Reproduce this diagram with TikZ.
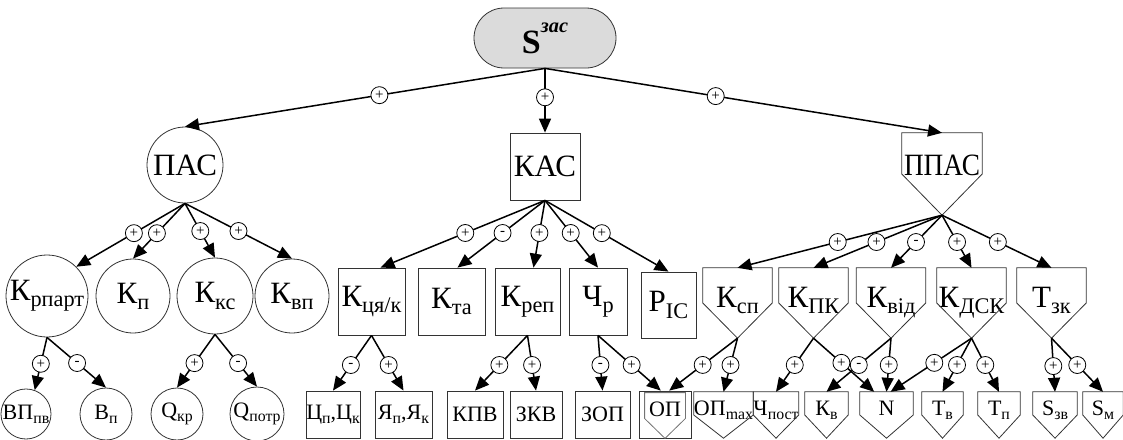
\documentclass[tikz,border=0pt]{standalone}
\usepackage{fontspec}
\setmainfont{Liberation Serif}
\usetikzlibrary{arrows.meta,shapes.misc,calc}
\newcommand\lo[1]{\raisebox{-0.2em}{\scalebox{0.72}{#1}}}
\newcommand\hi[1]{\raisebox{0.62em}{\scalebox{0.6}{#1}}}
\tikzset{
 outl/.style={draw=black!80, line width=0.8pt},
 bigf/.style={font=\fontsize{31}{33}\selectfont},
 smlf/.style={font=\fontsize{22}{24}\selectfont},
 circ/.style={circle, outl, inner sep=0pt},
 sq/.style={rectangle, outl, inner sep=0pt},
 pill/.style={rounded rectangle, outl, fill=black!14, inner sep=0pt, minimum width=142pt, minimum height=60pt, font=\fontsize{34}{36}\selectfont},
 pentA/.style={rectangle, inner sep=0pt, minimum width=69pt, minimum height=70pt, text height=21pt, text depth=13pt, bigf},
 pentB/.style={rectangle, inner sep=0pt, minimum height=46pt, text height=15pt, text depth=15pt, smlf},
 sign/.style={circle, draw=black, line width=0.8pt, fill=white, inner sep=0pt, minimum size=17pt, font=\fontsize{15}{15}\selectfont},
 conn/.style={draw=black, line width=1.5pt, -{Triangle[length=14pt,width=12pt]}},
}
\begin{document}
\begin{tikzpicture}[x=1pt,y=-1pt]
\useasboundingbox (0,0) rectangle (1123,439);
% top
\node[pill] (s) at (545,38) {\textbf{S}\hi{\textbf{\textit{зас}}}};
% level 1
\node[circ, bigf, minimum size=76pt] (pas) at (185,165) {ПАС};
\node[sq, bigf, minimum width=70pt, minimum height=67pt] (kas) at (545,166.5) {КАС};
\node[rectangle, inner sep=0pt, minimum width=80pt, minimum height=82pt, text height=22pt, text depth=20pt, bigf] (ppas) at (942,174) {\scalebox{0.88}[1]{ППАС}};
% level 2 circles
\node[circ, bigf, minimum size=82pt] (krp) at (47,296) {К\lo{рпарт}};
\node[circ, bigf, minimum size=74pt] (kp) at (133,296) {К\lo{п}};
\node[circ, bigf, minimum size=76pt] (kks) at (215,296) {К\lo{кс}};
\node[circ, bigf, minimum size=74pt] (kvp) at (292,296) {К\lo{вп}};
% level 2 boxes
\node[sq, bigf, minimum width=67pt, minimum height=67pt] (kca) at (371.5,301.5) {К\lo{ця/к}};
\node[sq, bigf, minimum width=67pt, minimum height=67pt] (kta) at (451.5,301.5) {К\lo{та}};
\node[sq, bigf, minimum width=65pt, minimum height=67pt] (krep) at (527.5,301.5) {К\lo{реп}};
\node[sq, bigf, minimum width=58pt, minimum height=67pt] (chr) at (598,301.5) {Ч\lo{р}};
\node[sq, bigf, minimum width=55pt, minimum height=66pt] (pic) at (668.5,305) {P\lo{IC}};
% level 2 pentagons
\node[pentA] (ksp) at (737.5,303) {К\lo{сп}};
\node[pentA] (kpk) at (813.5,303) {К\lo{ПК}};
\node[pentA] (kvid) at (891,303) {К\lo{від}};
\node[pentA] (kdsk) at (971.5,303) {К\lo{ДСК}};
\node[pentA] (tzk) at (1051.5,303) {Т\lo{зк}};
% level 3 circles
\node[circ, smlf, minimum size=50pt] (vpp) at (26,414) {ВП\lo{пв}};
\node[circ, smlf, minimum size=52pt] (vp) at (106,414) {В\lo{п}};
\node[circ, smlf, minimum size=52pt] (qkr) at (177,414) {Q\lo{кр}};
\node[circ, smlf, minimum size=54pt] (qpotr) at (257,414) {Q\lo{потр}};
% level 3 boxes
\node[sq, smlf, minimum width=54pt, minimum height=47pt] (cpck) at (333,414.5) {Ц\lo{п},Ц\lo{к}};
\node[sq, smlf, minimum width=57pt, minimum height=47pt] (yapk) at (403.5,414.5) {Я\lo{п},Я\lo{к}};
\node[sq, smlf, minimum width=56pt, minimum height=47pt] (kpv) at (475,414.5) {КПВ};
\node[sq, smlf, minimum width=52pt, minimum height=47pt] (zkv) at (536,414.5) {ЗКВ};
\node[sq, smlf, minimum width=55pt, minimum height=47pt] (zop) at (602.5,414.5) {ЗОП};
\node[sq, smlf, minimum width=52pt, minimum height=47pt, text height=15pt, text depth=11pt] (op) at (665,414.5) {ОП};
% level 3 pentagons
\node[pentB, minimum width=43pt] (opmax) at (723.5,415) {ОП\lo{max}};
\node[pentB, minimum width=42pt] (chpost) at (776,415) {Ч\lo{пост}};
\node[pentB, minimum width=43pt] (kv) at (826.5,415) {К\lo{в}};
\node[pentB, minimum width=53pt] (n) at (886.5,415) {N};
\node[pentB, minimum width=41pt] (tv) at (942.5,415) {Т\lo{в}};
\node[pentB, minimum width=42pt] (tp) at (999,415) {Т\lo{п}};
\node[pentB, minimum width=44pt] (szv) at (1055,415) {S\lo{зв}};
\node[pentB, minimum width=40pt] (sm) at (1103,415) {S\lo{м}};
% pentagon outlines
\foreach \p in {ppas,ksp,kpk,kvid,kdsk,tzk,opmax,chpost,kv,n,tv,tp,szv,sm}
  \draw[outl] (\p.north west) -- (\p.north east) -- (\p.east) -- (\p.south) -- (\p.west) -- cycle;
\draw[outl, draw=black!55] ($(op.north west)+(6,2)$) -- ($(op.north east)+(-6,2)$) -- ($(op.east)+(-6,4)$) -- (op.south) -- ($(op.west)+(6,4)$) -- cycle;
% connectors: top
\draw[conn] (s.south) -- node[sign,pos=.46]{+} (pas.north);
\draw[conn] (s.south) -- node[sign,pos=.45]{+} (kas.north);
\draw[conn] (s.south) -- node[sign,pos=.43]{+} (ppas.north);
% PAS
\draw[conn] (pas.south) -- node[sign,pos=.47]{+} (krp.north east);
\draw[conn] (pas.south) -- node[sign,pos=.54]{+} (kp.north);
\draw[conn] (pas.south) -- node[sign,pos=.51]{+} (kks.north);
\draw[conn] (pas.south) -- node[sign,pos=.5]{+} (kvp.north);
\draw[conn] (krp.south) -- node[sign,pos=.5]{+} (vpp.70);
\draw[conn] (krp.south) -- node[sign,pos=.51]{-} (vp.north);
\draw[conn] (kks.south) -- node[sign,pos=.54]{+} (qkr.north);
\draw[conn] (kks.south) -- node[sign,pos=.55]{-} (qpotr.north);
% KAS
\draw[conn] (kas.south) -- node[sign,pos=.485]{+} (kca.75);
\draw[conn] (kas.south) -- node[sign,pos=.485]{-} (kta.80);
\draw[conn] (kas.south) -- node[sign,pos=.485]{+} (krep.80);
\draw[conn] (kas.south) -- node[sign,pos=.485]{+} (chr.north);
\draw[conn] (kas.south) -- node[sign,pos=.46]{+} (pic.north);
\draw[conn] (kca.south) -- node[sign,pos=.536]{-} (cpck.north);
\draw[conn] (kca.south) -- node[sign,pos=.536]{+} (yapk.north);
\draw[conn] (krep.south) -- node[sign,pos=.536]{+} (kpv.north);
\draw[conn] (krep.south) -- node[sign,pos=.536]{+} (zkv.north);
\draw[conn] (chr.south) -- node[sign,pos=.536]{-} (zop.north);
\draw[conn] (chr.south) -- node[sign,pos=.536]{+} (op.100);
% PPAS
\draw[conn] (ppas.south) -- node[sign,pos=.51]{+} (ksp.north);
\draw[conn] (ppas.south) -- node[sign,pos=.51]{+} (kpk.north);
\draw[conn] (ppas.south) -- node[sign,pos=.51]{-} (kvid.north);
\draw[conn] (ppas.south) -- node[sign,pos=.51]{+} (kdsk.north);
\draw[conn] (ppas.south) -- node[sign,pos=.51]{+} (tzk.north);
\draw[conn] (ksp.south) -- node[sign,pos=.51]{+} (op.80);
\draw[conn] (ksp.south) -- node[sign,pos=.5]{+} (opmax.north);
\draw[conn] (kpk.south) -- node[sign,pos=.5]{+} (chpost.north);
\draw[conn] (kpk.south) -- node[sign,pos=.46]{+} (n.118);
\draw[conn] (kvid.south) -- node[sign,pos=.5]{-} (kv.north);
\draw[conn] (kvid.south) -- node[sign,pos=.5]{+} (n.north);
\draw[conn] (kdsk.south) -- node[sign,pos=.46]{+} (n.80);
\draw[conn] (kdsk.south) -- node[sign,pos=.5]{+} (tv.north);
\draw[conn] (kdsk.south) -- node[sign,pos=.5]{+} (tp.north);
\draw[conn] (tzk.south) -- node[sign,pos=.52]{+} (szv.north);
\draw[conn] (tzk.south) -- node[sign,pos=.5]{+} (sm.north);
\end{tikzpicture}
\end{document}
